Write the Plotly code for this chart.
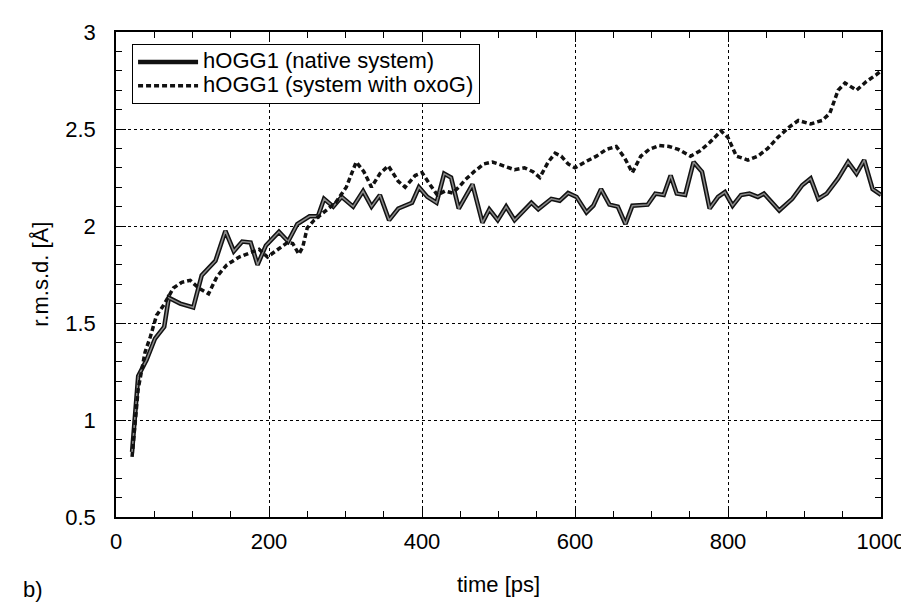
import plotly.graph_objects as go

# ---- data ----
native_t = [21, 29, 40, 51, 63, 69, 84, 101, 112, 130, 143, 154, 165, 176, 185, 196,
            213, 225, 237, 253, 264, 272, 284, 295, 310, 323, 334, 345, 357, 369, 387,
            396, 407, 419, 429, 438, 448, 466, 479, 488, 499, 510, 521, 543, 552, 569,
            580, 591, 602, 615, 624, 634, 645, 656, 666, 675, 695, 705, 716, 725, 733,
            744, 755, 766, 776, 787, 796, 806, 817, 828, 839, 847, 867, 884, 897, 908,
            918, 929, 944, 957, 968, 978, 989, 1000]
native_v = [0.835, 1.226, 1.31, 1.42, 1.48, 1.63, 1.60, 1.58, 1.745, 1.82, 1.975, 1.87,
            1.92, 1.915, 1.80, 1.90, 1.97, 1.92, 2.01, 2.05, 2.05, 2.14, 2.10, 2.15, 2.10,
            2.18, 2.10, 2.16, 2.03, 2.09, 2.12, 2.20, 2.15, 2.12, 2.27, 2.25, 2.09, 2.215,
            2.017, 2.086, 2.03, 2.10, 2.03, 2.12, 2.086, 2.14, 2.13, 2.17, 2.15, 2.07,
            2.105, 2.19, 2.11, 2.10, 2.01, 2.105, 2.11, 2.167, 2.16, 2.26, 2.167, 2.16,
            2.33, 2.28, 2.09, 2.15, 2.175, 2.105, 2.16, 2.167, 2.15, 2.167, 2.08, 2.14,
            2.21, 2.245, 2.14, 2.167, 2.245, 2.33, 2.27, 2.34, 2.19, 2.16]

oxog_t = [21, 29, 38, 45, 53, 62, 75, 86, 97, 108, 121, 132, 145, 161, 174, 187, 198,
          209, 224, 231, 239, 244, 250, 259, 274, 287, 301, 314, 324, 334, 345, 356, 369,
          378, 391, 400, 411, 420, 430, 440, 448, 457, 468, 481, 492, 508, 521, 534, 545,
          554, 565, 574, 582, 591, 600, 613, 628, 641, 654, 665, 675, 686, 697, 710, 723,
          735, 751, 763, 776, 791, 800, 811, 826, 839, 852, 865, 880, 892, 908, 923, 933,
          944, 953, 968, 981, 994, 1000]
oxog_v = [0.81, 1.16, 1.35, 1.43, 1.54, 1.59, 1.68, 1.71, 1.72, 1.68, 1.65, 1.74, 1.80,
          1.84, 1.86, 1.88, 1.84, 1.87, 1.915, 1.91, 1.855, 1.89, 1.99, 2.03, 2.08, 2.12,
          2.20, 2.33, 2.28, 2.20, 2.27, 2.31, 2.23, 2.20, 2.26, 2.275, 2.21, 2.16, 2.18,
          2.17, 2.20, 2.24, 2.28, 2.32, 2.33, 2.31, 2.29, 2.30, 2.28, 2.25, 2.33, 2.375,
          2.36, 2.32, 2.30, 2.33, 2.36, 2.395, 2.41, 2.35, 2.275, 2.36, 2.395, 2.415,
          2.41, 2.395, 2.36, 2.386, 2.43, 2.49, 2.456, 2.36, 2.34, 2.36, 2.40, 2.456,
          2.51, 2.544, 2.526, 2.544, 2.58, 2.70, 2.737, 2.70, 2.745, 2.78, 2.80]

x_ticks = [0, 200, 400, 600, 800, 1000]
y_ticks = [0.5, 1, 1.5, 2, 2.5, 3]
series_names = ["hOGG1 (native system)", "hOGG1 (system with oxoG)"]
x_title = "time [ps]"
y_title = "r.m.s.d. [Å]"
panel_label = "b)"

FONT = "Liberation Sans, Arial, Helvetica, sans-serif"
FS = 22


def legend_label(s):
    # larger glyphs inside a compact legend row (row height follows legend font size)
    return f'<span style="font-size:22px">{s}</span>'


fig = go.Figure()
fig.add_trace(go.Scatter(x=native_t, y=native_v, mode="lines", name=legend_label(series_names[0]),
                         line=dict(color="#111111", width=4.5)))
fig.add_trace(go.Scatter(x=native_t, y=native_v, mode="lines", showlegend=False,
                         hoverinfo="skip", line=dict(color="#8a8a8a", width=1.5)))
fig.add_trace(go.Scatter(x=oxog_t, y=oxog_v, mode="lines", name=legend_label(series_names[1]),
                         line=dict(color="#111111", width=3.5, dash="5px,3px")))

axis_common = dict(
    showline=True, linecolor="black", linewidth=1.5, mirror="ticks",
    ticks="inside", ticklen=10, tickwidth=1.2, tickcolor="black",
    showgrid=True, gridcolor="black", gridwidth=1, griddash="dot",
    zeroline=False, tickmode="array",
    tickfont=dict(family=FONT, size=FS, color="black"),
)

fig.update_xaxes(range=[0, 1000], tickvals=x_ticks, ticktext=[f"{v:g}" for v in x_ticks],
                 ticklabelstandoff=4,
                 minor=dict(dtick=50, tick0=0, ticks="inside", ticklen=6, tickcolor="black", showgrid=False),
                 **axis_common)
fig.update_yaxes(range=[0.5, 3], tickvals=y_ticks, ticktext=[f"{v:g}" for v in y_ticks],
                 ticklabelstandoff=14,
                 minor=dict(dtick=0.1, tick0=0.5, ticks="inside", ticklen=6, tickcolor="black", showgrid=False),
                 **axis_common)

fig.update_layout(
    width=909, height=603,
    margin=dict(l=108, r=29, t=18, b=94),
    paper_bgcolor="white", plot_bgcolor="white",
    showlegend=True,
    legend=dict(x=0.021, y=0.975, xanchor="left", yanchor="top",
                bgcolor="white", bordercolor="black", borderwidth=1,
                font=dict(family=FONT, size=16, color="black"),
                itemwidth=60, tracegroupgap=0),
    annotations=[
        dict(text=x_title, xref="paper", yref="paper", x=0.5, y=-0.1385,
             xanchor="center", yanchor="middle", showarrow=False,
             font=dict(family=FONT, size=FS, color="black")),
        dict(text=y_title, xref="paper", yref="paper", x=-0.099, y=0.5, textangle=-90,
             xanchor="center", yanchor="middle", showarrow=False,
             font=dict(family=FONT, size=FS, color="black")),
        dict(text=panel_label, xref="paper", yref="paper", x=-0.124, y=-0.1487,
             xanchor="left", yanchor="middle", showarrow=False,
             font=dict(family=FONT, size=22, color="black")),
    ],
)

fig.write_html("out.html")
